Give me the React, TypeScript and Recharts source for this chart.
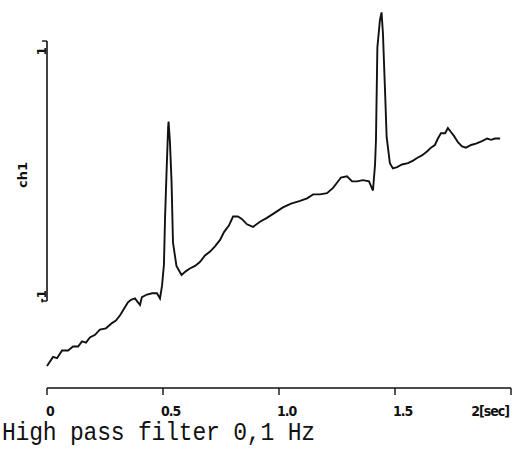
import { LineChart, Line, XAxis, YAxis, ReferenceLine } from "recharts"

// time in seconds
const times = [
  0.0, 0.026, 0.043, 0.065, 0.091, 0.112, 0.134, 0.151, 0.168, 0.185,
  0.207, 0.228, 0.254, 0.28, 0.297, 0.315, 0.332, 0.349, 0.362, 0.379,
  0.392, 0.401, 0.409, 0.431, 0.453, 0.474, 0.487, 0.496, 0.504, 0.509,
  0.516, 0.522, 0.524, 0.53, 0.537, 0.543, 0.558, 0.58, 0.599, 0.616,
  0.638, 0.659, 0.681, 0.703, 0.724, 0.746, 0.763, 0.784, 0.802, 0.823,
  0.841, 0.862, 0.888, 0.918, 0.948, 0.983, 1.017, 1.052, 1.091, 1.121,
  1.147, 1.177, 1.207, 1.233, 1.25, 1.267, 1.293, 1.315, 1.336, 1.362,
  1.388, 1.405, 1.414, 1.418, 1.424, 1.435, 1.442, 1.448, 1.457, 1.464,
  1.478, 1.491, 1.509, 1.53, 1.556, 1.578, 1.595, 1.616, 1.638, 1.655,
  1.672, 1.685, 1.698, 1.716, 1.728, 1.741, 1.754, 1.772, 1.789, 1.806,
  1.828, 1.849, 1.875, 1.897, 1.914, 1.931, 1.953,
]

// channel 1 amplitude
const ch1 = [
  -1.5, -1.43, -1.44, -1.38, -1.38, -1.35, -1.35, -1.31, -1.32, -1.28,
  -1.26, -1.22, -1.21, -1.17, -1.15, -1.11, -1.06, -1.01, -0.99, -0.98,
  -1.01, -1.03, -0.97, -0.95, -0.94, -0.94, -0.98, -0.88, -0.72, -0.35,
  0.03, 0.33, 0.38, 0.22, -0.09, -0.55, -0.73, -0.8, -0.77, -0.75,
  -0.73, -0.7, -0.65, -0.62, -0.58, -0.53, -0.47, -0.42, -0.35, -0.35,
  -0.37, -0.41, -0.43, -0.39, -0.36, -0.32, -0.28, -0.25, -0.23, -0.21,
  -0.18, -0.18, -0.17, -0.13, -0.09, -0.05, -0.04, -0.08, -0.08, -0.07,
  -0.08, -0.15, 0.05, 0.24, 0.95, 1.16, 1.22, 1.06, 0.62, 0.26,
  0.06, 0.02, 0.03, 0.05, 0.06, 0.08, 0.1, 0.12, 0.15, 0.18,
  0.2, 0.25, 0.29, 0.29, 0.33, 0.3, 0.27, 0.22, 0.19, 0.18,
  0.2, 0.21, 0.23, 0.25, 0.24, 0.25, 0.25,
]

const xTicks = [0, 0.5, 1, 1.5, 2]
const xTickLabels = ["0", "0.5", "1.0", "1.5", "2[sec]"]
const yTicks = [-1, 1]
const yTickLabels = ["-1", "1"]

const data = times.map((t, i) => ({ t, v: ch1[i] }))

const tickFont = "'DejaVu Sans Condensed', 'DejaVu Sans', sans-serif"

const XTick = ({ x, y, payload }: any) => {
  const i = xTicks.indexOf(payload.value)
  const last = i === xTicks.length - 1
  return (
    <text
      x={last ? x - 2 : x - (i === 0 ? 1 : 2)}
      y={y + 19}
      textAnchor={last ? "end" : "start"}
      fontFamily={tickFont}
      fontWeight="bold"
      fontSize={14}
      letterSpacing={-1}
      fill="#111"
    >
      {xTickLabels[i]}
    </text>
  )
}

const YTick = ({ y, payload }: any) => {
  const i = yTicks.indexOf(payload.value)
  const top = payload.value > 0
  return (
    <text
      transform={`translate(46, ${top ? y + 6 : y + 2}) rotate(-90)`}
      textAnchor={top ? "end" : "start"}
      fontFamily={tickFont}
      fontWeight="bold"
      fontSize={13}
      fill="#111"
    >
      {yTickLabels[i]}
    </text>
  )
}

const ChLabel = () => (
  <text
    transform="translate(27, 175) rotate(-90)"
    textAnchor="middle"
    fontFamily="'DejaVu Sans', sans-serif"
    fontWeight="bold"
    fontSize={13}
    fill="#111"
  >
    ch1
  </text>
)

export default function App() {
  return (
    <div style={{ position: "absolute", left: 0, top: 0, width: 516, height: 453, background: "#fff" }}>
      <LineChart width={516} height={453} data={data} margin={{ top: 5, right: 5, bottom: 0, left: 0 }}>
        <XAxis
          type="number"
          dataKey="t"
          domain={[0, 2]}
          ticks={xTicks}
          height={65}
          axisLine={{ stroke: "#111", strokeWidth: 1.6 }}
          tickLine={{ stroke: "#111", strokeWidth: 1.4 }}
          tickSize={7}
          tick={<XTick />}
        />
        <YAxis
          type="number"
          domain={[-1.669, 1.277]}
          ticks={yTicks}
          width={47}
          axisLine={false}
          tickLine={{ stroke: "#111", strokeWidth: 1.4 }}
          tickSize={5}
          tick={<YTick />}
          label={<ChLabel />}
        />
        <ReferenceLine
          segment={[
            { x: 0, y: -1 },
            { x: 0, y: 1 },
          ]}
          stroke="#111"
          strokeWidth={1.6}
          ifOverflow="visible"
        />
        <Line
          type="linear"
          dataKey="v"
          stroke="#111"
          strokeWidth={1.9}
          dot={false}
          isAnimationActive={false}
        />
      </LineChart>
      <div
        style={{
          position: "absolute",
          left: 2,
          top: 424,
          fontFamily: "'Liberation Mono', monospace",
          fontSize: 23,
          lineHeight: "23px",
          color: "#111",
          whiteSpace: "nowrap",
          letterSpacing: -0.2,
          transform: "scaleY(1.15)",
          transformOrigin: "left bottom",
        }}
      >
        High pass filter 0,1 Hz
      </div>
    </div>
  )
}
